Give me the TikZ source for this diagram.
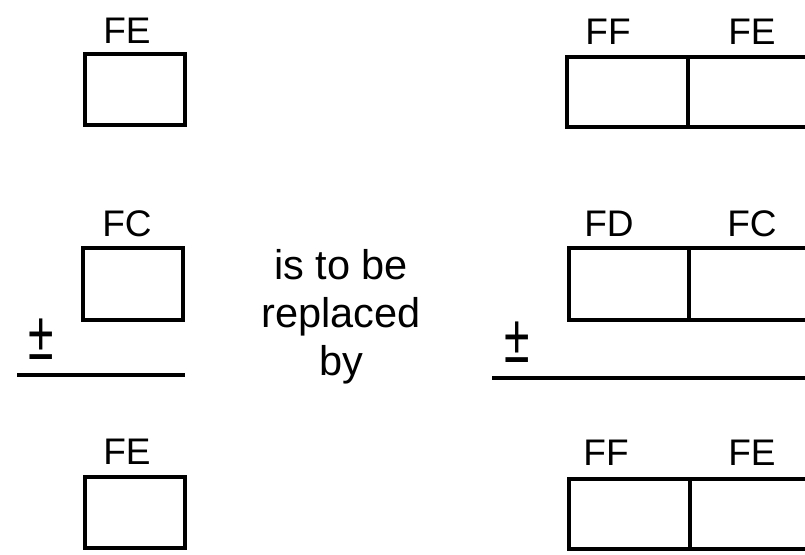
\documentclass[tikz,border=0pt]{standalone}
\usepackage{fontspec}
\setmainfont{Liberation Sans}
\begin{document}
\begin{tikzpicture}[x=1pt,y=-1pt,
  box/.style={draw, line width=3.6pt, inner sep=0pt, outer sep=0pt},
  lbl/.style={font=\fontsize{37}{39}\selectfont, inner sep=0pt, anchor=base},
  midtxt/.style={font=\fontsize{41.5}{45}\selectfont, inner sep=0pt, anchor=base},
  sgn/.style={font=\fontsize{44}{46}\selectfont, inner sep=0pt, anchor=center},
  rule/.style={line width=3.4pt}]
\useasboundingbox (0,0) rectangle (805,554);
\clip (0,0) rectangle (805,554);
\fill[white] (0,0) rectangle (805,554);
% left column
\node[lbl] (lfe1) at (127,43) {FE};
\node[box, minimum width=100pt, minimum height=71pt] (lb1) at (135,89.5) {};
\node[lbl] (lfc) at (127,236) {FC};
\node[box, minimum width=100pt, minimum height=72pt] (lb2) at (133,284) {};
\node[sgn] (lpm) at (41,339) {\scalebox{1.05}[1.55]{±}};
\coordinate (ll1) at (17,375);
\coordinate (ll2) at (185,375);
\draw[rule] (ll1) -- (ll2);
\node[lbl] (lfe2) at (127,464) {FE};
\node[box, minimum width=100pt, minimum height=71pt] (lb3) at (135,512.5) {};
% middle text
\node[midtxt] (t1) at (341,279) {is to be};
\node[midtxt] (t2) at (341,327) {replaced};
\node[midtxt] (t3) at (341,375) {by};
% right column
\node[lbl] (rff1) at (608,44) {FF};
\node[lbl] (rfe1) at (752,44) {FE};
\node[box, minimum width=121pt, minimum height=70pt] (ra1) at (627.5,92) {};
\node[box, minimum width=152pt, minimum height=70pt] (rb1) at (764,92) {};
\node[lbl] (rfd) at (609,236) {FD};
\node[lbl] (rfc) at (752,236) {FC};
\node[box, minimum width=120pt, minimum height=72pt] (ra2) at (629,284) {};
\node[box, minimum width=151pt, minimum height=72pt] (rb2) at (764.5,284) {};
\node[sgn] (rpm) at (517,342) {\scalebox{1.05}[1.55]{±}};
\coordinate (rl1) at (492,378);
\coordinate (rl2) at (805,378);
\draw[rule] (rl1) -- (rl2);
\node[lbl] (rff2) at (606,465) {FF};
\node[lbl] (rfe2) at (752,465) {FE};
\node[box, minimum width=121pt, minimum height=70pt] (ra3) at (629.5,514) {};
\node[box, minimum width=150pt, minimum height=70pt] (rb3) at (765,514) {};
\end{tikzpicture}
\end{document}
